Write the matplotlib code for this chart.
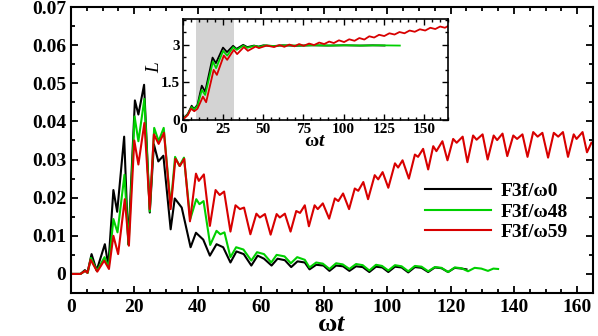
import numpy as np
import matplotlib
matplotlib.use('Agg')
import matplotlib.pyplot as plt
from matplotlib.ticker import MultipleLocator, FuncFormatter

plt.rcParams['font.family'] = ['Liberation Serif', 'DejaVu Serif']
plt.rcParams['font.weight'] = 'bold'
plt.rcParams['mathtext.fontset'] = 'custom'
plt.rcParams['mathtext.rm'] = 'Liberation Serif:bold'
plt.rcParams['mathtext.it'] = 'Liberation Serif:bold:italic'
plt.rcParams['mathtext.bf'] = 'Liberation Serif:bold'

# dados (curvas principais)
labels = ['F3f/ω0', 'F3f/ω48', 'F3f/ω59']
cores = ['#000000', '#00d000', '#d80000']

black_t = [0, 3, 4.4, 5.2, 6.5, 8.1, 10.7, 11.8, 13.4, 14.6, 16.8, 18.1, 20.2, 21.3, 23.1,
           24.9, 26.2, 27.6, 29.2, 31.5, 32.8, 35.0, 37.8, 39.5, 41.8, 43.9, 46.0, 48.1, 50.4,
           52.3, 54.6, 57.0, 59.0, 61.0, 63.4, 65.3, 67.6, 69.6, 71.6, 73.9, 75.4, 77.5, 79.8,
           81.7, 83.8, 86.0, 88.0, 90.1, 92.2, 94.3, 96.4, 98.4, 100.3, 102.4, 104.5, 106.6,
           108.7, 110.8, 112.9, 115.0, 117.1, 119.2, 121.3, 123.5, 125.0]
black_v = [0, 0, 0.001, 0.0003, 0.0052, 0.0009, 0.0078, 0.0022, 0.022, 0.0163, 0.036, 0.0078,
           0.0455, 0.0418, 0.0496, 0.0161, 0.034, 0.0295, 0.031, 0.0117, 0.0198, 0.0174, 0.007,
           0.0108, 0.0090, 0.0048, 0.0078, 0.0070, 0.003, 0.0059, 0.0052, 0.0022, 0.0048, 0.004,
           0.0022, 0.004, 0.0036, 0.0018, 0.0033, 0.003, 0.0012, 0.0024, 0.0022, 0.0008, 0.0022,
           0.002, 0.0008, 0.002, 0.0018, 0.0005, 0.0019, 0.0017, 0.0005, 0.0019, 0.0017, 0.0004,
           0.0018, 0.0016, 0.0005, 0.0017, 0.0015, 0.0005, 0.0016, 0.0014, 0.0012]

green_t = [0, 3, 4.5, 5.3, 6.3, 8.2, 10.6, 11.9, 13.4, 14.7, 16.9, 18.2, 20.1, 21.3, 23.2,
           24.9, 26.3, 27.7, 29.3, 31.5, 32.9, 34.3, 35.7, 37.7, 39.6, 40.6, 41.9, 44.0, 46.0,
           47.2, 48.5, 50.4, 52.2, 54.5, 57.0, 58.8, 61.0, 63.3, 65.0, 67.5, 69.5, 71.5, 73.9,
           75.4, 77.5, 79.6, 81.7, 83.8, 85.9, 88.0, 90.1, 92.2, 94.3, 96.4, 98.3, 100.3, 102.4,
           104.5, 106.6, 108.7, 110.8, 112.9, 115.0, 117.1, 119.2, 121.3, 123.4, 125.5, 127.6,
           129.7, 131.8, 133.5, 135.0]
green_v = [0, 0, 0.0008, 0.0003, 0.0042, 0.0008, 0.0044, 0.0017, 0.0144, 0.0109, 0.026, 0.0076,
           0.0413, 0.0348, 0.0459, 0.0164, 0.0383, 0.0348, 0.0383, 0.0178, 0.0307, 0.0283, 0.0305,
           0.0144, 0.0196, 0.0183, 0.0191, 0.0076, 0.0113, 0.0104, 0.0109, 0.0044, 0.007, 0.0064,
           0.0035, 0.0057, 0.0052, 0.003, 0.005, 0.0046, 0.0028, 0.0044, 0.0037, 0.0017, 0.003,
           0.0027, 0.0013, 0.0028, 0.0025, 0.0013, 0.0026, 0.0023, 0.0009, 0.0024, 0.0021, 0.0009,
           0.0023, 0.002, 0.0007, 0.0021, 0.0019, 0.0007, 0.0018, 0.0016, 0.0005, 0.0017, 0.0015,
           0.0007, 0.0016, 0.0014, 0.0008, 0.0014, 0.0013]

red_t = [0, 3, 4.5, 5.2, 6.2, 8.3, 10.5, 12.0, 13.4, 14.9, 17.0, 18.3, 20.0, 21.3, 23.2, 24.9,
         26.2, 27.7, 29.4, 31.5, 33.0, 34.4, 35.8, 37.6, 39.5, 40.4, 42.0, 43.9, 45.7, 47.0, 48.4,
         50.4, 52.0, 53.4, 54.7, 56.7, 58.6, 59.7, 61.3, 63.1, 65.0, 66.0, 67.6, 69.4, 71.2, 72.4,
         73.9, 75.2, 77.0, 78.0, 79.6, 81.6, 83.4, 84.5, 86.0, 87.9, 89.7, 90.8, 92.4, 93.9, 96.0,
         97.1, 98.5, 100.3, 102.4, 103.4, 104.8, 106.8, 108.7, 109.7, 111.3, 112.9, 114.5, 115.5,
         117.4, 119.0, 120.8, 121.9, 123.8, 125.3, 127.1, 128.2, 130.1, 131.7, 133.6, 134.7, 136.4,
         137.9, 139.8, 141.0, 142.7, 144.3, 146.1, 147.5, 149.0, 150.8, 152.6, 154.0, 155.5, 157.1,
         158.9, 159.8, 161.7, 163.1, 164.5]
red_v = [0, 0, 0.0008, 0.0003, 0.0037, 0.0006, 0.0035, 0.0013, 0.010, 0.0052, 0.0196, 0.0074,
         0.035, 0.0287, 0.0396, 0.017, 0.0366, 0.0341, 0.037, 0.017, 0.0302, 0.0283, 0.0302, 0.0138,
         0.0263, 0.0244, 0.0261, 0.0126, 0.022, 0.0207, 0.0216, 0.0111, 0.018, 0.017, 0.0174, 0.0104,
         0.0158, 0.0148, 0.0157, 0.0103, 0.0157, 0.0148, 0.0158, 0.0111, 0.0165, 0.016, 0.018, 0.0125,
         0.018, 0.017, 0.0185, 0.0145, 0.0198, 0.0191, 0.0211, 0.017, 0.0224, 0.0218, 0.0241, 0.0196,
         0.0259, 0.0248, 0.0267, 0.0226, 0.029, 0.0279, 0.0298, 0.025, 0.0313, 0.0307, 0.0328, 0.0274,
         0.0335, 0.0322, 0.0348, 0.0298, 0.0354, 0.0344, 0.036, 0.0293, 0.0363, 0.0352, 0.0366, 0.030,
         0.0363, 0.0351, 0.0368, 0.0309, 0.0363, 0.0354, 0.0366, 0.0307, 0.0372, 0.036, 0.037, 0.0305,
         0.037, 0.036, 0.0372, 0.0307, 0.0366, 0.0354, 0.0372, 0.0319, 0.0344]

# dados do grafico menor (L x wt)
Lblack_t = [0, 3, 5.4, 6.8, 9.0, 11.7, 13.8, 18.4, 20.5, 24.9, 27.4, 31.2, 33.3, 37.5, 40.0,
            44.2, 47, 50, 56, 62, 70, 80, 90, 100, 110, 118, 125.5]
Lblack_v = [0.04, 0.25, 0.57, 0.44, 0.6, 1.37, 1.13, 2.49, 2.27, 2.89, 2.71, 2.96, 2.84, 3.0,
            2.91, 2.97, 2.93, 2.98, 2.95, 2.98, 2.96, 2.98, 2.97, 2.98, 2.97, 2.98, 2.97]
Lgreen_t = [0, 3, 5.4, 6.8, 9.0, 11.7, 13.8, 18.6, 20.6, 25.0, 27.5, 31.3, 33.5, 37.6, 40.0,
            44.5, 47.5, 51, 57, 63, 72, 82, 92, 102, 112, 122, 135]
Lgreen_v = [0.03, 0.22, 0.52, 0.42, 0.56, 1.2, 1.0, 2.33, 2.07, 2.76, 2.57, 2.91, 2.8, 2.97,
            2.88, 2.96, 2.92, 2.98, 2.95, 2.98, 2.97, 2.98, 2.97, 2.98, 2.97, 2.98, 2.97]
Lred_t = [0, 3, 5.0, 7.0, 9.0, 12.4, 14.4, 19.1, 21.1, 25.4, 27.5, 31.6, 33.7, 37.9, 40.4, 45.2,
          47.3, 52.1, 56.7, 60.0, 63.1, 66.2, 69.4, 72.3, 75.2, 78.5, 81.6, 84.8, 87.9, 91.0, 93.9,
          97.1, 100.3, 103.5, 106.8, 109.8, 112.9, 116.0, 119.0, 122.1, 125.3, 128.5, 131.7, 134.8,
          137.9, 141.1, 144.3, 147.5, 150.8, 154.0, 157.1, 160.1, 163.1, 165.0]
Lred_v = [0.02, 0.2, 0.45, 0.35, 0.45, 0.93, 0.71, 2.0, 1.8, 2.57, 2.4, 2.8, 2.63, 2.91, 2.76,
          2.93, 2.87, 2.97, 2.91, 2.99, 2.92, 3.01, 2.94, 3.03, 2.96, 3.05, 2.99, 3.09, 3.03, 3.13,
          3.07, 3.18, 3.11, 3.22, 3.16, 3.27, 3.21, 3.34, 3.29, 3.40, 3.35, 3.46, 3.41, 3.51, 3.46,
          3.57, 3.52, 3.62, 3.57, 3.68, 3.63, 3.73, 3.68, 3.75]
faixa = (8, 31.5)

fig = plt.figure(figsize=(5.98, 3.36), dpi=100)
ax = fig.add_axes([71/598, 1-293/336, 522/598, 286/336])

for t, v, c, lb in zip([black_t, green_t, red_t], [black_v, green_v, red_v], cores, labels):
    ax.plot(t, v, color=c, lw=1.5, label=lb)

ax.set_xlim(0, 165)
ax.set_ylim(-0.005, 0.07)
ax.xaxis.set_major_locator(MultipleLocator(20))
ax.xaxis.set_minor_locator(MultipleLocator(5))
ax.yaxis.set_major_locator(MultipleLocator(0.01))
ax.yaxis.set_minor_locator(MultipleLocator(0.005))
ax.yaxis.set_major_formatter(FuncFormatter(lambda v, p: '0' if abs(v) < 1e-9 else f'{v:.2f}'))
ax.tick_params(which='both', direction='in', top=True, right=True, width=1.3, labelsize=14)
ax.tick_params(which='major', length=5)
ax.tick_params(which='minor', length=3)
ax.tick_params(axis='x', pad=4)
for s in ax.spines.values():
    s.set_linewidth(1.5)
ax.set_xlabel(r'$\mathrm{ω}\mathit{t}$', fontsize=19)
ax.xaxis.set_label_coords(0.5, -0.075)

ax.legend(loc='lower right', bbox_to_anchor=(0.985, 0.12), frameon=False, fontsize=14,
          handlelength=3.4, labelspacing=0.15, handletextpad=0.5)

# grafico menor
axin = fig.add_axes([183/598, 1-120/336, 265/598, 101/336])
axin.axvspan(faixa[0], faixa[1], color='#d3d3d3', lw=0)
for t, v, c in zip([Lblack_t, Lgreen_t, Lred_t], [Lblack_v, Lgreen_v, Lred_v], cores):
    axin.plot(t, v, color=c, lw=1.3)
axin.set_xlim(0, 165)
axin.set_ylim(0, 4.03)
axin.xaxis.set_major_locator(MultipleLocator(25))
axin.xaxis.set_minor_locator(MultipleLocator(5))
axin.set_yticks([0, 1.5, 3])
axin.set_yticklabels(['0', '1.5', '3'])
axin.yaxis.set_minor_locator(MultipleLocator(0.5))
axin.tick_params(which='both', direction='in', top=True, right=True, width=1.0, labelsize=11, pad=2)
axin.tick_params(which='major', length=4)
axin.tick_params(which='minor', length=2.5)
for s in axin.spines.values():
    s.set_linewidth(1.2)
axin.set_xlabel(r'$\mathrm{ω}\mathit{t}$', fontsize=14, labelpad=-2)
axin.set_ylabel('L', fontsize=14, style='italic')
axin.yaxis.set_label_coords(-0.075, 0.52)

plt.savefig('out.png', dpi=100)
